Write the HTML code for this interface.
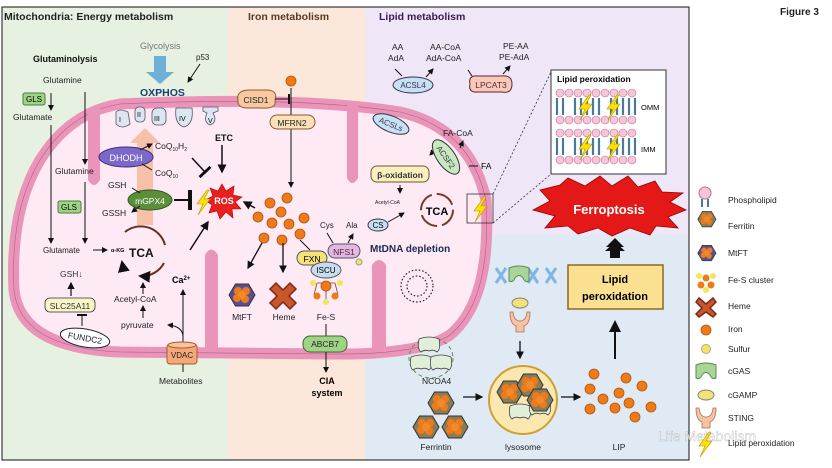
<!DOCTYPE html>
<html><head><meta charset="utf-8"><style>
body{margin:0;background:#fff}
svg{display:block;font-family:"Liberation Sans",Arial,sans-serif}
</style></head><body>
<svg width="832" height="468" viewBox="0 0 832 468" xmlns="http://www.w3.org/2000/svg">
<defs>
<marker id="a" markerWidth="6" markerHeight="6" refX="5" refY="3" orient="auto"><path d="M0,0 L6,3 L0,6 z" fill="#111"/></marker>
<marker id="t" markerWidth="2" markerHeight="10" refX="1" refY="5" orient="auto"><rect x="0" y="0" width="2" height="10" fill="#111"/></marker>
<g id="fe"><circle r="5" fill="#ee7a1a" stroke="#b4530c" stroke-width="0.8"/></g>
<g id="ferr"><polygon points="-13,0 -6.5,-11 6.5,-11 13,0 6.5,11 -6.5,11" fill="#8a7d55" stroke="#333" stroke-width="1"/><circle r="4" cx="-4" cy="-4" fill="#ee7a1a"/><circle r="4" cx="4" cy="-4" fill="#ee7a1a"/><circle r="4" cx="-5" cy="3" fill="#ee7a1a"/><circle r="4" cx="3" cy="4" fill="#ee7a1a"/><circle r="4" cx="0" cy="0" fill="#f08a2a"/></g>
<g id="mtft"><polygon points="-13,0 -6.5,-11 6.5,-11 13,0 6.5,11 -6.5,11" fill="#5a4d9a" stroke="#333" stroke-width="1"/><circle r="4" cx="-4" cy="-4" fill="#ee7a1a"/><circle r="4" cx="4" cy="-4" fill="#ee7a1a"/><circle r="4" cx="-5" cy="3" fill="#ee7a1a"/><circle r="4" cx="3" cy="4" fill="#ee7a1a"/><circle r="4" cx="0" cy="0" fill="#f08a2a"/></g>
<g id="bolt"><polygon points="4,-12 -6,2 0,2 -5,13 7,-3 1,-3 6,-12" fill="#ffe000" stroke="#b09a00" stroke-width="0.6"/></g>
<g id="cgas"><path d="M-10,-7 Q0,-11 10,-7 L10,6 Q6,8 4,3 Q0,-2 -4,3 Q-6,8 -10,6 z" fill="#a9d49a" stroke="#5a8a50" stroke-width="1"/></g>
<g id="sting"><path d="M-10,-10 Q-10,2 -4,4 L-4,10 L4,10 L4,4 Q10,2 10,-10 L7,-10 Q6,-1 0,-1 Q-6,-1 -7,-10 z" fill="#f5c2a3" stroke="#b07050" stroke-width="0.8"/></g>
<g id="ncoa"><path d="M-10,-6 Q0,-10 10,-6 Q12,4 8,7 Q4,4 0,6 Q-4,4 -8,7 Q-12,4 -10,-6z" fill="#e0f0d8" stroke="#444" stroke-width="0.8"/></g>
</defs>

<!-- panels -->
<rect x="2" y="7" width="226" height="453" fill="#e6f1e2"/>
<rect x="228" y="7" width="137" height="453" fill="#fbe8da"/>
<rect x="365" y="7" width="324" height="228" fill="#efe6f7"/>
<rect x="365" y="235" width="324" height="225" fill="#dfeaf5"/>
<rect x="2" y="7" width="687" height="453" fill="none" stroke="#111" stroke-width="1"/>

<text x="4" y="20" font-size="10.5" font-weight="bold" fill="#222">Mitochondria: Energy metabolism</text>
<text x="248" y="20" font-size="10.5" font-weight="bold" fill="#5a3a22">Iron metabolism</text>
<text x="379" y="20" font-size="10.5" font-weight="bold" fill="#3a1a52">Lipid metabolism</text>
<text x="780" y="15" font-size="10" font-weight="bold" fill="#222">Figure 3</text>

<!-- mitochondrion -->
<path d="M120,104 Q300,96 400,112 Q470,128 486,200 Q492,300 450,335 Q420,355 330,354 L120,352 Q20,348 14,290 Q10,210 40,160 Q70,112 120,104z" fill="#fdeaf4" stroke="#e994b8" stroke-width="11"/>
<path d="M120,104 Q300,96 400,112 Q470,128 486,200 Q492,300 450,335 Q420,355 330,354 L120,352 Q20,348 14,290 Q10,210 40,160 Q70,112 120,104z" fill="none" stroke="#b0607f" stroke-width="0.6"/>
<!-- cristae -->
<g fill="#e994b8">
<path d="M88,108 L100,108 L100,180 Q94,190 88,180z"/>
<path d="M347,104 L358,104 L358,178 Q352,188 347,178z"/>
<path d="M205,352 L218,352 L218,255 Q211,244 205,255z"/>
<path d="M372,352 L386,352 L386,265 Q379,255 372,265z"/>
</g>

<!-- Glycolysis / OXPHOS -->
<text x="140" y="49" font-size="9" fill="#777">Glycolysis</text>
<path d="M154,56 L166,56 L166,72 L174,72 L160,84 L146,72 L154,72z" fill="#6fb0d8"/>
<text x="140" y="96" font-size="10.5" font-weight="bold" fill="#1c3f6e">OXPHOS</text>
<text x="196" y="60" font-size="8" fill="#222">p53</text>
<line x1="200" y1="64" x2="188" y2="82" stroke="#111" marker-end="url(#a)"/>
<!-- ETC complexes -->
<g fill="#dce6f0" stroke="#556" stroke-width="0.8">
<path d="M116,112 Q120,108 128,112 L130,124 Q122,130 116,124z"/>
<rect x="135" y="107" width="10" height="15" rx="4"/>
<rect x="152" y="108" width="14" height="17" rx="5"/>
<path d="M176,108 L192,108 Q194,124 184,127 Q174,124 176,108z"/>
<path d="M203,107 L218,107 L218,111 L213,113 Q218,122 210,125 Q203,122 207,113 L203,111z"/>
</g>
<text x="119" y="122" font-size="7">I</text><text x="137" y="117" font-size="7">II</text><text x="154" y="121" font-size="7">III</text><text x="179" y="121" font-size="7">IV</text><text x="208" y="123" font-size="7">V</text>
<text x="215" y="141" font-size="9" font-weight="bold" fill="#111">ETC</text>
<line x1="222" y1="145" x2="222" y2="172" stroke="#111" stroke-width="1.5" marker-end="url(#a)"/>
<!-- orange arrow -->
<path d="M137,225 L137,143 L130,143 L145,128 L160,143 L153,143 L153,225z" fill="#f6b99a" opacity="0.85"/>
<!-- DHODH -->
<ellipse cx="126" cy="157" rx="27" ry="10" fill="#7b68c9" stroke="#3b2d7a"/>
<text x="126" y="161" font-size="9" fill="#fff" text-anchor="middle">DHODH</text>
<text x="155" y="149" font-size="8.5" fill="#222">CoQ<tspan font-size="5" dy="2">10</tspan><tspan dy="-2">H</tspan><tspan font-size="5" dy="2">2</tspan></text>
<text x="155" y="176" font-size="8.5" fill="#222">CoQ<tspan font-size="5" dy="2">10</tspan></text>
<line x1="140" y1="150" x2="152" y2="144" stroke="#111" marker-end="url(#a)"/>
<line x1="152" y1="170" x2="142" y2="164" stroke="#111"/>
<line x1="192" y1="158" x2="205" y2="172" stroke="#111" stroke-width="1.5" marker-end="url(#t)"/>
<!-- mGPX4 -->
<text x="108" y="188" font-size="8.5" fill="#222">GSH</text>
<text x="102" y="216" font-size="8.5" fill="#222">GSSH</text>
<ellipse cx="150" cy="200" rx="22" ry="10" fill="#5b8f3a" stroke="#2f5a1e"/>
<text x="150" y="204" font-size="8.5" fill="#fff" text-anchor="middle">mGPX4</text>
<line x1="132" y1="188" x2="140" y2="193" stroke="#111"/>
<line x1="140" y1="206" x2="132" y2="212" stroke="#111" marker-end="url(#a)"/>
<line x1="174" y1="200" x2="190" y2="200" stroke="#111" stroke-width="2" marker-end="url(#t)"/>
<!-- ROS -->
<polygon points="222,184 226,191 234,186 233,195 242,197 235,202 241,209 232,209 233,218 226,212 220,219 217,211 209,213 212,205 205,200 213,196 210,188 218,191" fill="#e82020" stroke="#a00" stroke-width="0.6"/>
<text x="224" y="204" font-size="9" font-weight="bold" fill="#fff" text-anchor="middle">ROS</text>
<use href="#bolt" x="203" y="202"/>
<line x1="255" y1="208" x2="244" y2="202" stroke="#111" stroke-width="1.5" marker-end="url(#a)"/>
<line x1="190" y1="250" x2="208" y2="222" stroke="#111" stroke-width="1.5" marker-end="url(#a)"/>

<!-- glutaminolysis -->
<text x="33" y="62" font-size="9" font-weight="bold" fill="#111">Glutaminolysis</text>
<text x="43" y="83" font-size="8.5" fill="#222">Glutamine</text>
<rect x="23" y="93" width="22" height="12" fill="#9fd486" stroke="#4a7a3a" rx="2"/><text x="34" y="102" font-size="8" text-anchor="middle">GLS</text>
<line x1="51" y1="93" x2="51" y2="110" stroke="#111" marker-end="url(#a)"/>
<text x="13" y="120" font-size="8.5" fill="#222">Glutamate</text>
<line x1="51" y1="125" x2="51" y2="243" stroke="#111" marker-end="url(#a)"/>
<line x1="85" y1="92" x2="85" y2="164" stroke="#111" marker-end="url(#a)"/>
<text x="55" y="174" font-size="8.5" fill="#222">Glutamine</text>
<line x1="85" y1="182" x2="85" y2="243" stroke="#111" marker-end="url(#a)"/>
<rect x="58" y="201" width="23" height="12" fill="#9fd486" stroke="#4a7a3a" rx="2"/><text x="69" y="210" font-size="8" text-anchor="middle">GLS</text>
<text x="43" y="253" font-size="8" fill="#222">Glutamate</text>
<line x1="93" y1="250" x2="107" y2="250" stroke="#111" marker-end="url(#a)"/>
<text x="111" y="252" font-size="5.5" font-weight="bold">α-KG</text>
<text x="129" y="257" font-size="12" font-weight="bold" fill="#111">TCA</text>
<path d="M125,232 A25,25 0 0 1 165,245" fill="none" stroke="#6a2e20" stroke-width="2"/>
<path d="M164,263 A25,25 0 0 1 140,276" fill="none" stroke="#6a2e20" stroke-width="2" marker-end="url(#a)"/>
<path d="M125,270 A25,25 0 0 1 122,262" fill="none" stroke="#6a2e20" stroke-width="2" marker-end="url(#a)"/>
<text x="60" y="277" font-size="8.5" fill="#333">GSH↓</text>
<line x1="71" y1="296" x2="71" y2="283" stroke="#111" stroke-width="1.2" marker-end="url(#a)"/>
<rect x="45" y="298" width="50" height="14" rx="5" fill="#f8f6c8" stroke="#333" stroke-width="0.8"/>
<text x="70" y="309" font-size="8.5" text-anchor="middle" fill="#333">SLC25A11</text>
<line x1="82" y1="326" x2="82" y2="315" stroke="#111" marker-end="url(#t)"/>
<ellipse cx="85" cy="338" rx="25" ry="9" transform="rotate(10 85 338)" fill="#fff" stroke="#223" />
<text x="85" y="341" font-size="8.5" text-anchor="middle" fill="#223" transform="rotate(10 85 338)">FUNDC2</text>
<text x="114" y="302" font-size="8.5" fill="#222">Acetyl-CoA</text>
<line x1="143" y1="294" x2="143" y2="283" stroke="#111" marker-end="url(#a)"/>
<text x="121" y="328" font-size="8.5" fill="#222">pyruvate</text>
<line x1="143" y1="318" x2="143" y2="306" stroke="#111" marker-end="url(#a)"/>
<text x="172" y="283" font-size="9" font-weight="bold">Ca<tspan font-size="6" dy="-3">2+</tspan></text>
<line x1="183" y1="342" x2="183" y2="290" stroke="#111" marker-end="url(#a)"/>
<path d="M183,336 Q182,326 168,325" fill="none" stroke="#111" marker-end="url(#a)"/>
<rect x="167" y="344" width="30" height="20" rx="3" fill="#f5a87a" stroke="#a85a2a"/>
<ellipse cx="182" cy="345" rx="14" ry="3" fill="#f8c4a0" stroke="#a85a2a"/>
<text x="182" y="358" font-size="8" text-anchor="middle" fill="#222">VDAC</text>
<line x1="183" y1="364" x2="183" y2="372" stroke="#111"/>
<text x="159" y="384" font-size="8.5" fill="#222">Metabolites</text>

<!-- iron -->
<use href="#fe" x="291" y="81"/>
<line x1="291" y1="88" x2="291" y2="187" stroke="#111" marker-end="url(#a)"/>
<path d="M238,100 Q236,90 250,90 L268,90 Q278,91 275,100 Q277,109 262,108 L248,108 Q237,108 238,100z" fill="#f8c9a0" stroke="#8a5a30"/>
<text x="256" y="103" font-size="8.5" text-anchor="middle" fill="#222">CISD1</text>
<line x1="275" y1="99" x2="289" y2="99" stroke="#111" marker-end="url(#t)"/>
<rect x="270" y="115" width="45" height="14" rx="7" fill="#fbe0b8" stroke="#8a5a30"/>
<text x="292" y="126" font-size="8.5" text-anchor="middle" fill="#222">MFRN2</text>
<use href="#fe" x="270" y="203"/><use href="#fe" x="287" y="198"/><use href="#fe" x="281" y="212"/><use href="#fe" x="258" y="217"/><use href="#fe" x="272" y="223"/><use href="#fe" x="289" y="224"/><use href="#fe" x="304" y="218"/><use href="#fe" x="300" y="234"/><use href="#fe" x="282" y="240"/><use href="#fe" x="264" y="238"/>
<text x="320" y="228" font-size="8" fill="#222">Cys</text><text x="346" y="228" font-size="8" fill="#222">Ala</text>
<line x1="300" y1="240" x2="310" y2="250" stroke="#111"/>
<line x1="262" y1="243" x2="248" y2="268" stroke="#111" stroke-width="1.3" marker-end="url(#a)"/>
<line x1="283" y1="243" x2="283" y2="272" stroke="#111" stroke-width="1.3" marker-end="url(#a)"/>
<rect x="297" y="251" width="30" height="14" rx="7" fill="#f5e27a" stroke="#555"/><text x="312" y="262" font-size="8.5" text-anchor="middle">FXN</text>
<rect x="328" y="244" width="32" height="14" rx="7" fill="#e5b5e8" stroke="#555"/><text x="344" y="255" font-size="8.5" text-anchor="middle" fill="#432">NFS1</text>
<line x1="333" y1="243" x2="327" y2="233" stroke="#111"/>
<line x1="348" y1="243" x2="353" y2="234" stroke="#111" marker-end="url(#a)"/>
<circle cx="359" cy="262" r="3" fill="#f3e55a" stroke="#999"/>
<ellipse cx="326" cy="270" rx="15" ry="8" fill="#c8dcf0" stroke="#555"/><text x="326" y="273" font-size="8" text-anchor="middle">ISCU</text>
<g stroke="#6a4030" stroke-width="0.8"><line x1="317" y1="283" x2="335" y2="283"/><line x1="326" y1="283" x2="326" y2="300"/><line x1="317" y1="283" x2="314" y2="295"/><line x1="335" y1="283" x2="338" y2="295"/></g>
<circle cx="313" cy="283" r="3" fill="#f3e55a"/><circle cx="340" cy="283" r="3" fill="#f3e55a"/><circle cx="326" cy="302" r="3" fill="#f3e55a"/><use href="#fe" x="326" y="286" transform="scale(1)"/><circle cx="317" cy="296" r="3.5" fill="#ee7a1a"/><circle cx="335" cy="296" r="3.5" fill="#ee7a1a"/>
<use href="#mtft" x="242" y="295"/>
<text x="242" y="320" font-size="8.5" text-anchor="middle" fill="#222">MtFT</text>
<path d="M276,283 L283,290 L290,283 L296,289 L289,296 L296,303 L290,309 L283,302 L276,309 L270,303 L277,296 L270,289z" fill="#c9552a" stroke="#7a2a1a" stroke-width="1.5"/>
<text x="284" y="320" font-size="8.5" text-anchor="middle" fill="#222">Heme</text>
<text x="326" y="320" font-size="8.5" text-anchor="middle" fill="#222">Fe-S</text>
<line x1="326" y1="324" x2="326" y2="337" stroke="#111"/>
<rect x="303" y="336" width="44" height="16" rx="7" fill="#9fd486" stroke="#3a6a2a"/><text x="325" y="347" font-size="8.5" text-anchor="middle" fill="#222">ABCB7</text>
<line x1="326" y1="352" x2="326" y2="372" stroke="#111" marker-end="url(#a)"/>
<text x="327" y="384" font-size="9" font-weight="bold" text-anchor="middle">CIA</text>
<text x="327" y="396" font-size="9" font-weight="bold" text-anchor="middle">system</text>

<!-- lipid -->
<text x="392" y="50" font-size="8.5" fill="#222">AA</text><text x="388" y="61" font-size="8.5" fill="#222">AdA</text>
<line x1="395" y1="69" x2="402" y2="76" stroke="#111"/>
<ellipse cx="413" cy="85" rx="20" ry="8" fill="#c8e0f5" stroke="#334"/><text x="413" y="88" font-size="8" text-anchor="middle" fill="#334">ACSL4</text>
<line x1="426" y1="77" x2="433" y2="69" stroke="#111" marker-end="url(#a)"/>
<text x="430" y="50" font-size="8.5" fill="#222">AA-CoA</text><text x="426" y="61" font-size="8.5" fill="#222">AdA-CoA</text>
<path d="M470,84 Q468,75 478,76 L502,76 Q512,75 512,84 Q512,94 502,92 L478,92 Q468,93 470,84z" fill="#f7c9b8" stroke="#623"/>
<text x="491" y="88" font-size="8.5" text-anchor="middle" fill="#623">LPCAT3</text>
<line x1="472" y1="76" x2="468" y2="70" stroke="#111"/>
<line x1="503" y1="74" x2="510" y2="66" stroke="#111" marker-end="url(#a)"/>
<text x="503" y="49" font-size="8.5" fill="#222">PE-AA</text><text x="499" y="60" font-size="8.5" fill="#222">PE-AdA</text>
<ellipse cx="391" cy="124" rx="19" ry="8" transform="rotate(22 391 124)" fill="#c8e0f5" stroke="#334"/>
<text x="391" y="127" font-size="8" text-anchor="middle" transform="rotate(22 391 124)" fill="#334">ACSLs</text>
<text x="443" y="136" font-size="8.5" fill="#222">FA-CoA</text>
<line x1="443" y1="141" x2="430" y2="155" stroke="#111" marker-end="url(#a)"/>
<ellipse cx="446" cy="157" rx="20" ry="9" transform="rotate(55 446 157)" fill="#c8e8c0" stroke="#334"/>
<text x="446" y="160" font-size="8" text-anchor="middle" transform="rotate(55 446 157)" fill="#334">ACSF2</text>
<line x1="460" y1="148" x2="463" y2="141" stroke="#111" marker-end="url(#a)"/>
<line x1="469" y1="166" x2="478" y2="166" stroke="#111"/><text x="481" y="169" font-size="8.5">FA</text>
<rect x="371" y="166" width="58" height="16" rx="6" fill="#fbefc0" stroke="#6a5a2a"/><text x="400" y="178" font-size="8.5" font-weight="bold" text-anchor="middle" fill="#333">β-oxidation</text>
<line x1="400" y1="185" x2="400" y2="193" stroke="#111" marker-end="url(#a)"/>
<text x="375" y="204" font-size="5" fill="#222">Acetyl-CoA</text>
<ellipse cx="378" cy="225" rx="10" ry="6" fill="#c8e0f5" stroke="#334"/><text x="378" y="228" font-size="8" text-anchor="middle">CS</text>
<line x1="388" y1="222" x2="404" y2="213" stroke="#111" marker-end="url(#a)"/>
<circle cx="437" cy="210" r="16" fill="none" stroke="#7a3a2a" stroke-width="2" stroke-dasharray="20,5"/>
<text x="437" y="215" font-size="11" font-weight="bold" text-anchor="middle">TCA</text>
<rect x="467" y="194" width="26" height="29" fill="none" stroke="#333" stroke-width="0.8"/>
<use href="#bolt" x="480" y="209"/>
<line x1="493" y1="194" x2="551" y2="72" stroke="#333" stroke-dasharray="2,2" stroke-width="0.8"/>
<line x1="493" y1="223" x2="551" y2="174" stroke="#333" stroke-dasharray="2,2" stroke-width="0.8"/>
<!-- lipid peroxidation inset -->
<rect x="551" y="70" width="115" height="104" fill="#fff" stroke="#333" stroke-width="1"/>
<text x="557" y="82" font-size="8.5" font-weight="bold">Lipid peroxidation</text>
<g id="mem">
<g fill="#f7c5d8" stroke="#c07090" stroke-width="0.6">
<circle cx="560" cy="93" r="4"/><circle cx="569" cy="93" r="4"/><circle cx="578" cy="93" r="4"/><circle cx="587" cy="93" r="4"/><circle cx="596" cy="93" r="4"/><circle cx="605" cy="93" r="4"/><circle cx="614" cy="93" r="4"/><circle cx="623" cy="93" r="4"/><circle cx="632" cy="93" r="4"/>
<circle cx="560" cy="120" r="4"/><circle cx="569" cy="120" r="4"/><circle cx="578" cy="120" r="4"/><circle cx="587" cy="120" r="4"/><circle cx="596" cy="120" r="4"/><circle cx="605" cy="120" r="4"/><circle cx="614" cy="120" r="4"/><circle cx="623" cy="120" r="4"/><circle cx="632" cy="120" r="4"/>
</g>
<g stroke="#4a7a9a" stroke-width="2.2" fill="none">
<path d="M557,98 v17 M563,98 v17 M575,98 v17 M581,98 v17 M593,98 v17 M599,98 v17 M611,98 v17 M617,98 v17 M629,98 v17 M635,98 v17 M587,98 v17 M623,98 v17"/>
</g>
<use href="#bolt" x="585" y="107"/><use href="#bolt" x="613" y="107"/>
</g>
<use href="#mem" y="40"/>
<text x="641" y="110" font-size="7.5">OMM</text><text x="641" y="152" font-size="7.5">IMM</text>
<!-- Ferroptosis star -->
<polygon points="540,190 560,185 568,178 585,186 600,176 612,186 628,176 638,187 655,181 662,192 683,193 670,202 686,210 668,217 678,228 656,226 650,235 630,228 612,236 598,228 578,234 568,226 545,228 555,216 533,210 550,201" fill="#e51818" stroke="#900" stroke-width="0.8"/>
<text x="609" y="214" font-size="13" font-weight="bold" fill="#fff" text-anchor="middle">Ferroptosis</text>
<path d="M611,253 L611,247 L606,247 L615,238 L624,247 L619,247 L619,253z" fill="#111"/>
<!-- MtDNA -->
<text x="370" y="252" font-size="10" font-weight="bold" fill="#1c2a55">MtDNA depletion</text>
<circle cx="417" cy="286" r="16" fill="none" stroke="#222" stroke-width="1.2" stroke-dasharray="1.5,2"/>
<circle cx="417" cy="286" r="10" fill="none" stroke="#222" stroke-width="1.2" stroke-dasharray="1.5,2"/>
<!-- cGAS pathway -->
<g stroke="#6aa8e0" stroke-width="3" opacity="0.8"><path d="M496,268 L506,283 M506,268 L496,283 M528,268 L538,283 M538,268 L528,283 M546,268 L556,283 M556,268 L546,283"/></g>
<use href="#cgas" x="519" y="275"/>
<ellipse cx="520" cy="303" rx="8" ry="5" fill="#f3e27a" stroke="#887"/>
<use href="#sting" x="520" y="322"/>
<line x1="520" y1="341" x2="520" y2="358" stroke="#111" stroke-width="1.3" marker-end="url(#a)"/>
<circle cx="523" cy="400" r="34" fill="#fbe7b0" stroke="#d0a030" stroke-width="2"/>
<use href="#ncoa" x="520" y="412"/><use href="#ncoa" x="540" y="408"/>
<use href="#ferr" x="510" y="392"/><use href="#ferr" x="530" y="385"/><use href="#ferr" x="540" y="400"/>
<text x="523" y="450" font-size="8.5" text-anchor="middle" fill="#222">lysosome</text>
<ellipse cx="431" cy="358" rx="22" ry="20" fill="none" stroke="#5a9050" stroke-dasharray="4,3"/>
<use href="#ncoa" x="429" y="345"/><use href="#ncoa" x="421" y="363"/><use href="#ncoa" x="441" y="363"/>
<text x="422" y="384" font-size="8.5" fill="#222">NCOA4</text>
<use href="#ferr" x="441" y="403"/><use href="#ferr" x="426" y="427"/><use href="#ferr" x="455" y="427"/>
<text x="436" y="450" font-size="8.5" text-anchor="middle" fill="#222">Ferrintin</text>
<line x1="463" y1="397" x2="482" y2="397" stroke="#111" stroke-width="1.3" marker-end="url(#a)"/>
<line x1="561" y1="397" x2="580" y2="397" stroke="#111" stroke-width="1.3" marker-end="url(#a)"/>
<use href="#fe" x="594" y="374"/><use href="#fe" x="626" y="378"/><use href="#fe" x="642" y="386"/><use href="#fe" x="590" y="389"/><use href="#fe" x="619" y="393"/><use href="#fe" x="603" y="399"/><use href="#fe" x="629" y="403"/><use href="#fe" x="590" y="409"/><use href="#fe" x="615" y="408"/><use href="#fe" x="651" y="407"/><use href="#fe" x="635" y="417"/>
<text x="619" y="450" font-size="8.5" text-anchor="middle" fill="#222">LIP</text>
<line x1="615" y1="359" x2="615" y2="322" stroke="#111" stroke-width="2" marker-end="url(#a)"/>
<rect x="568" y="265" width="95" height="44" fill="#fce092" stroke="#8a6a20" stroke-width="1.5"/>
<text x="615" y="283" font-size="11" font-weight="bold" text-anchor="middle">Lipid</text>
<text x="615" y="300" font-size="11" font-weight="bold" text-anchor="middle">peroxidation</text>
<path d="M610,258 L610,251 L605,251 L615,242 L625,251 L620,251 L620,258z" fill="#111"/>
<!-- watermark -->
<text x="658" y="441" font-size="14" fill="#fff" opacity="0.8" stroke="#aaa" stroke-width="0.4">Life Metabolism</text>

<!-- legend -->
<g font-size="8.5" fill="#222">
<circle cx="705" cy="193" r="6" fill="#f7c5d8" stroke="#c07090"/><path d="M702,199 v8 M708,199 v8" stroke="#4a7a9a" stroke-width="2"/>
<text x="728" y="203">Phospholipid</text>
<use href="#ferr" x="707" y="226" transform="translate(212 61) scale(0.7)"/>
<text x="728" y="229">Ferritin</text>
<use href="#mtft" x="707" y="253" transform="translate(212 76) scale(0.7)"/>
<text x="728" y="256">MtFT</text>
<circle cx="699" cy="276" r="3" fill="#f3e55a"/><circle cx="713" cy="276" r="3" fill="#f3e55a"/><circle cx="706" cy="290" r="3" fill="#f3e55a"/><circle cx="706" cy="278" r="3.5" fill="#ee7a1a"/><circle cx="701" cy="285" r="3.5" fill="#ee7a1a"/><circle cx="711" cy="285" r="3.5" fill="#ee7a1a"/>
<text x="728" y="283">Fe-S cluster</text>
<path d="M699,298 L706,304 L713,298 L716,302 L710,308 L716,314 L713,317 L706,312 L699,317 L696,314 L702,308 L696,302z" fill="#c9552a" stroke="#7a2a1a" stroke-width="1.5"/>
<text x="728" y="309">Heme</text>
<use href="#fe" x="706" y="330"/><text x="728" y="332">Iron</text>
<circle cx="706" cy="349" r="4.5" fill="#f3e55a" stroke="#aa9"/><text x="728" y="352">Sulfur</text>
<use href="#cgas" x="706" y="372"/><text x="728" y="374">cGAS</text>
<ellipse cx="706" cy="395" rx="8" ry="5" fill="#f3e27a" stroke="#887"/><text x="728" y="398">cGAMP</text>
<use href="#sting" x="706" y="418"/><text x="728" y="421">STING</text>
<use href="#bolt" x="705" y="444"/><text x="728" y="446">Lipid peroxidation</text>
</g>
</svg>
</body></html>
